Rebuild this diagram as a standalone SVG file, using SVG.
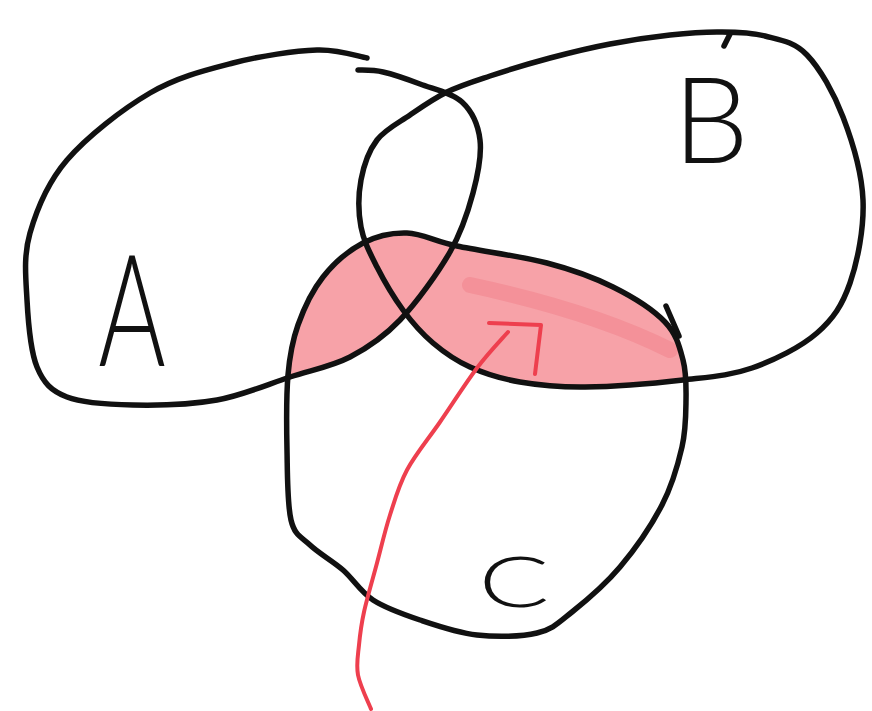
<svg xmlns="http://www.w3.org/2000/svg" width="872" height="711" viewBox="0 0 872 711">
<style>
.outline{fill:none;stroke:#111;stroke-width:5.5;stroke-linecap:round;stroke-linejoin:round}
.lbl{font-family:Lato,"Open Sans","Liberation Sans",sans-serif;font-weight:300;fill:#111;text-anchor:middle}
.red{fill:none;stroke:#ee3f4e;stroke-width:4;stroke-linecap:round;stroke-linejoin:round}
</style>
<defs>
<path id="pA" d="M367,58 C358.7,56.7 339.3,49.2 317,50 C294.7,50.8 260.8,55.8 233,63 C205.2,70.2 177.7,76.8 150,93 C122.3,109.2 87,136.7 67,160 C47,183.3 36.7,209.7 30,233 C23.3,256.3 25.8,277.7 27,300 C28.2,322.3 30.3,350.8 37,367 C43.7,383.2 51,390.7 67,397 C83,403.3 108,404.5 133,405 C158,405.5 190.8,404.7 217,400 C243.2,395.3 267.8,384.2 290,377 C312.2,369.8 331.7,366.5 350,357 C368.3,347.5 383.3,337.5 400,320 C416.7,302.5 437.8,273.2 450,252 C462.2,230.8 468,211.7 473,193 C478,174.3 481.8,155.2 480,140 C478.2,124.8 472,111.3 462,102 C452,92.7 433.2,89 420,84 C406.8,79 393.3,74.3 383,72 C372.7,69.7 362.2,70.3 358,70"/>
<path id="pB" d="M447,92 C433.7,98.5 421.7,107 410,115 C398.3,123 385.2,129.2 377,140 C368.8,150.8 363.7,165.5 361,180 C358.3,194.5 358.3,212.5 361,227 C363.7,241.5 370,253.2 377,267 C384,280.8 393.7,297.3 403,310 C412.3,322.7 421.8,333.5 433,343 C444.2,352.5 455.5,360.5 470,367 C484.5,373.5 500.8,378.7 520,382 C539.2,385.3 557.8,387.3 585,387 C612.2,386.7 655.2,383.2 683,380 C710.8,376.8 729.7,375.8 752,368 C774.3,360.2 800.7,347.2 817,333 C833.3,318.8 842.3,305.2 850,283 C857.7,260.8 864.2,227.7 863,200 C861.8,172.3 852.3,141.2 843,117 C833.7,92.8 820,68.5 807,55 C794,41.5 779.5,39.8 765,36 C750.5,32.2 735.8,32.2 720,32 C704.2,31.8 688.3,33 670,35 C651.7,37 630,40.2 610,44 C590,47.8 570,52.7 550,58 C530,63.3 507.2,70.3 490,76 C472.8,81.7 460.3,85.5 447,92 Z"/>
<path id="pC" d="M407,233 C422.7,233.5 433.7,241 457,246 C480.3,251 521,256.2 547,263 C573,269.8 593.3,277.2 613,287 C632.7,296.8 653.3,309.8 665,322 C676.7,334.2 679.5,347 683,360 C686.5,373 686.2,385.5 686,400 C685.8,414.5 686,429.5 682,447 C678,464.5 672.3,485 662,505 C651.7,525 635,549.2 620,567 C605,584.8 585.8,601 572,612 C558.2,623 552.8,629.2 537,633 C521.2,636.8 496.5,637.2 477,635 C457.5,632.8 437.3,625.8 420,620 C402.7,614.2 385.8,608.3 373,600 C360.2,591.7 353.5,579.2 343,570 C332.5,560.8 318.7,553.3 310,545 C301.3,536.7 294.8,535.8 291,520 C287.2,504.2 287.5,474.2 287,450 C286.5,425.8 286.2,395.8 288,375 C289.8,354.2 292.2,341.3 298,325 C303.8,308.7 312.2,290.7 323,277 C333.8,263.3 349,250.3 363,243 C377,235.7 391.3,232.5 407,233 Z"/>
<clipPath id="clipAB">
<use href="#pA"/>
<use href="#pB"/>
</clipPath>
</defs>
<g id="shading" clip-path="url(#clipAB)">
<use href="#pC" fill="#f7a2a8"/>
<path d="M470,285 C540,300 610,320 670,350" fill="none" stroke="#f27f89" stroke-width="16" stroke-linecap="round" opacity="0.5"/>
</g>
<g id="setA">
<use href="#pA" class="outline"/>
<text class="lbl" font-size="156" transform="translate(132,366) scale(0.66,1)">A</text>
</g>
<g id="setB">
<use href="#pB" class="outline"/>
<path d="M724,46 L730,34" class="outline"/>
<text class="lbl" font-size="120" transform="translate(711,163)">B</text>
</g>
<g id="setC">
<use href="#pC" class="outline"/>
<path d="M666,306 L679,336" class="outline"/>
<text class="lbl" font-size="70" font-weight="400" transform="translate(514,607) scale(1.5,1)">C</text>
</g>
<g id="connectors">
<path class="red" d="M371,709 C368.8,703.3 360,685.7 358,675 C356,664.3 358,655.5 359,645 C360,634.5 361,625.7 364,612 C367,598.3 372.7,579.2 377,563 C381.3,546.8 385,530.5 390,515 C395,499.5 398.7,485.5 407,470 C415.3,454.5 428.3,439 440,422 C451.7,405 465.7,383 477,368 C488.3,353 502.8,338 508,332"/>
<path class="red" d="M489,323 L541,325 L535,374"/>
</g>
</svg>
